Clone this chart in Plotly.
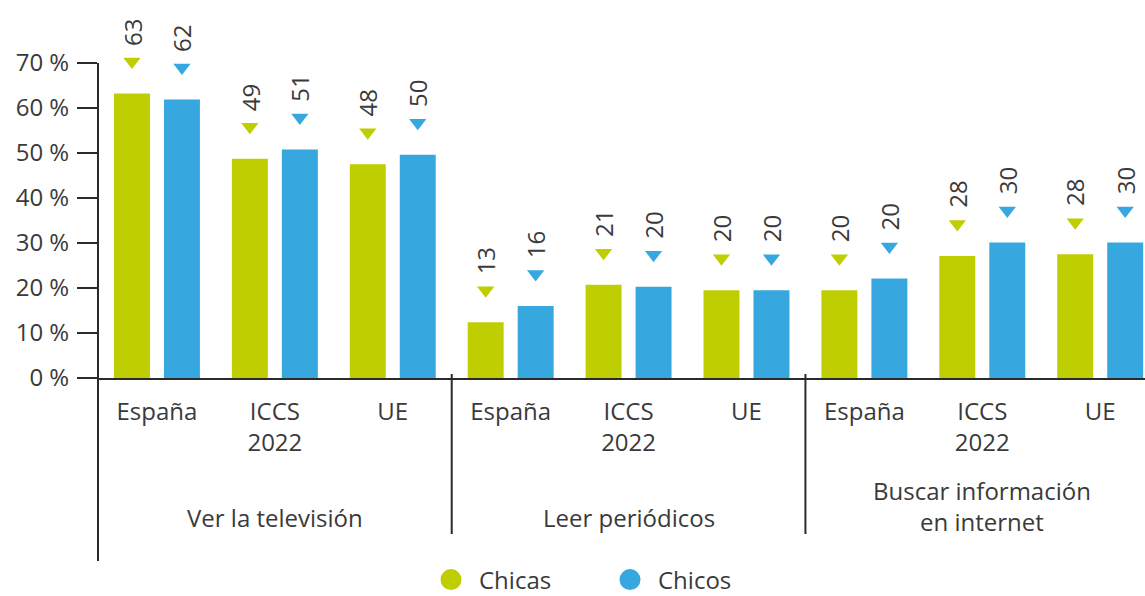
import plotly.graph_objects as go

# ---------------- data ----------------
grupos = ["Ver la televisión", "Leer periódicos", "Buscar información<br>en internet"]
subcategorias = ["España", "ICCS<br>2022", "UE"]
chicas = [63.2, 48.7, 47.5, 12.4, 20.7, 19.5, 19.5, 27.1, 27.5]
chicos = [61.9, 50.8, 49.6, 16.0, 20.3, 19.5, 22.1, 30.1, 30.1]
etiquetas_chicas = [63, 49, 48, 13, 21, 20, 20, 28, 28]
etiquetas_chicos = [62, 51, 50, 16, 20, 20, 20, 30, 30]
series = ["Chicas", "Chicos"]
yticks = [0, 10, 20, 30, 40, 50, 60, 70]

# ---------------- style ----------------
VERDE = "#BECE00"
AZUL = "#36A8DF"
TEXTO = "#3a3a3a"
EJE = "#2a2a2a"
FUENTE = "Open Sans"
FS = 24

W, H = 1145, 596
ML, MR, MT, MB = 98, 0, 18, 218
PLOT_H = H - MT - MB
YTOP = 80           # headroom above the last tick for triangles/labels
YAXIS_MAX = 70
PX_PER_UNIT = PLOT_H / YTOP


def paper_y(py):
    return (H - MB - py) / PLOT_H


pos = list(range(len(chicas)))
ticktext = subcategorias * len(grupos)
BW = 0.305          # bar width (category units)
D = 0.212           # half distance between bar centres
TRI_OFF = 32 / PX_PER_UNIT

fig = go.Figure()

for vals, col, sign in [(chicas, VERDE, -1), (chicos, AZUL, 1)]:
    fig.add_trace(go.Bar(
        x=pos, y=vals, width=BW, offset=sign * D - BW / 2,
        marker=dict(color=col, line=dict(width=0)), showlegend=False,
        hoverinfo="skip"))
    fig.add_trace(go.Scatter(
        x=[p + sign * D for p in pos], y=[v + TRI_OFF for v in vals],
        mode="markers", cliponaxis=False, showlegend=False, hoverinfo="skip",
        marker=dict(symbol="triangle-down", size=15, color=col)))

# legend entries (circles)
for name, col in zip(series, [VERDE, AZUL]):
    fig.add_trace(go.Scatter(
        x=[None], y=[None], mode="markers", name=name,
        marker=dict(symbol="circle", size=16, color=col,
                    line=dict(width=5, color=col))))

# value labels (rotated)
for vals, labs, sign in [(chicas, etiquetas_chicas, -1), (chicos, etiquetas_chicos, 1)]:
    for p, v, lab in zip(pos, vals, labs):
        fig.add_annotation(
            x=p + sign * D, y=v, text=str(lab), textangle=-90,
            showarrow=False, yanchor="bottom", xanchor="center", yshift=46,
            font=dict(family=FUENTE, size=FS, color=TEXTO))

# group labels
for gi, g in enumerate(grupos):
    centre = gi * 3 + 1
    fig.add_annotation(
        x=centre, xref="x", y=paper_y(517 if "<br>" not in g else 506), yref="paper",
        text=g, showarrow=False, yanchor="middle", xanchor="center",
        font=dict(family=FUENTE, size=FS, color=TEXTO))

# separators between groups and the y axis line (70 % down to the bottom)
shapes = []
for gi in range(1, len(grupos)):
    sx = gi * 3 - 0.5
    shapes.append(dict(type="line", xref="x", yref="paper", x0=sx, x1=sx,
                       y0=paper_y(374), y1=paper_y(534),
                       line=dict(color=EJE, width=2)))
shapes.append(dict(type="line", xref="paper", yref="y", x0=0, x1=0,
                   y0=0, y1=YAXIS_MAX, line=dict(color=EJE, width=2)))
shapes.append(dict(type="line", xref="paper", yref="paper", x0=0, x1=0,
                   y0=0, y1=paper_y(561), line=dict(color=EJE, width=2)))

fig.update_layout(
    width=W, height=H,
    margin=dict(l=ML, r=MR, t=MT, b=MB, autoexpand=False),
    paper_bgcolor="white", plot_bgcolor="white",
    font=dict(family=FUENTE, size=FS, color=TEXTO),
    barmode="overlay",
    shapes=shapes,
    showlegend=True,
    legend=dict(orientation="h", x=(423 - ML) / (W - ML - MR), xanchor="left",
                y=paper_y(580), yanchor="middle", entrywidth=118,
                entrywidthmode="pixels", itemsizing="trace", itemwidth=46,
                font=dict(family=FUENTE, size=FS, color=TEXTO),
                bgcolor="rgba(0,0,0,0)"),
    xaxis=dict(range=[-0.5, 8.38], tickmode="array", tickvals=pos,
               ticktext=ticktext, showline=True, linecolor=EJE, linewidth=2,
               ticks="", ticklabelstandoff=11, showgrid=False, zeroline=False,
               automargin=False, fixedrange=True),
    yaxis=dict(range=[0, YTOP], tickmode="array",
               tickvals=yticks, ticktext=[f"{v} %" for v in yticks],
               showline=False,
               ticks="outside", ticklen=20, tickwidth=2, tickcolor=EJE,
               ticklabelstandoff=3, automargin=False,
               showgrid=False, zeroline=False, fixedrange=True),
)

fig.write_html("out.html", config={"displayModeBar": False},
               post_script="document.body.style.margin='0';")
